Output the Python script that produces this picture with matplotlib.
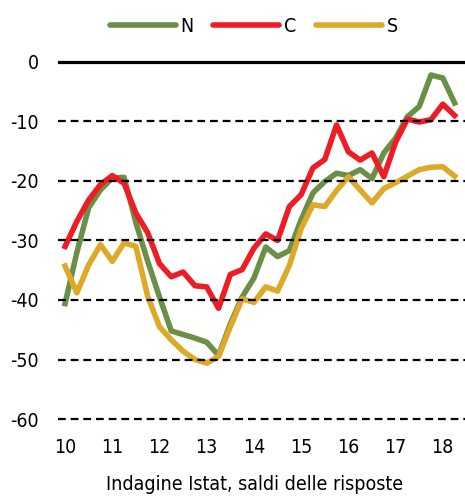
import numpy as np
import matplotlib
matplotlib.use("Agg")
import matplotlib.pyplot as plt

plt.rcParams['font.family'] = ['DejaVu Sans']
plt.rcParams['font.stretch'] = 'condensed'

# trimestri dal 2010 T1 al 2018 T2
anni = 10 + np.arange(34) / 4

nord = [-40.6, -32.0, -24.5, -21.5, -19.5, -19.4, -27.0, -33.5, -39.5, -45.2,
        -45.8, -46.4, -47.1, -49.3, -44.0, -39.5, -36.3, -31.1, -32.7, -31.7,
        -26.5, -22.0, -20.1, -18.7, -19.1, -18.1, -19.6, -15.3, -12.8, -9.2,
        -7.5, -2.2, -2.7, -6.9]
centro = [-31.0, -26.8, -23.2, -20.6, -19.1, -20.4, -25.4, -28.7, -33.9, -36.1,
          -35.3, -37.6, -37.8, -41.4, -35.7, -34.9, -31.3, -28.9, -30.0, -24.3,
          -22.3, -17.8, -16.4, -10.6, -15.1, -16.5, -15.3, -19.3, -13.5, -9.6,
          -10.1, -9.7, -7.1, -9.0]
sud = [-34.3, -38.8, -34.1, -30.7, -33.5, -30.4, -31.0, -39.4, -44.5, -46.7,
       -48.6, -50.0, -50.6, -49.5, -44.5, -39.8, -40.4, -37.8, -38.5, -34.2,
       -28.0, -24.0, -24.3, -21.6, -19.3, -21.5, -23.7, -21.3, -20.3, -19.2,
       -18.1, -17.7, -17.6, -19.2]

serie = [("N", nord, "#6a8f47"), ("C", centro, "#ee1c25"), ("S", sud, "#dcaa28")]
yticks = [0, -10, -20, -30, -40, -50, -60]
xticks = [10, 11, 12, 13, 14, 15, 16, 17, 18]

fig = plt.figure(figsize=(4.65, 4.97), dpi=100)
ax = fig.add_axes([0.1247, 0.1473, 0.8753, 0.7377])

for nome, val, col in serie:
    ax.plot(anni, val, color=col, lw=4, label=nome, zorder=2)

for v in yticks:
    if v == 0:
        ax.axhline(v, color="black", lw=2.3, zorder=3)
    else:
        ax.axhline(v, color="black", lw=1.6, ls=(0, (3.5, 2.2)), zorder=3)

ax.set_xlim(9.85, 18.47)
ax.set_ylim(-60.8, 0.8)
ax.set_yticks(yticks)
ax.set_yticklabels([str(v) for v in yticks])
ax.set_xticks(xticks)
ax.set_xticklabels([str(v) for v in xticks])
ax.tick_params(length=0, labelsize=14)
ax.tick_params(axis="y", pad=14)
ax.tick_params(axis="x", pad=10)
for s in ax.spines.values():
    s.set_visible(False)

leg = fig.legend(loc="center", bbox_to_anchor=(0.546, 0.947), ncol=3, frameon=False,
                 fontsize=14, handlelength=3.4, handletextpad=0.25, columnspacing=1.0)
for h in leg.get_lines():
    h.set_solid_capstyle("round")

fig.text(0.548, 0.026, "Indagine Istat, saldi delle risposte", ha="center",
         va="center", fontsize=14)

fig.savefig("out.png", dpi=100)
